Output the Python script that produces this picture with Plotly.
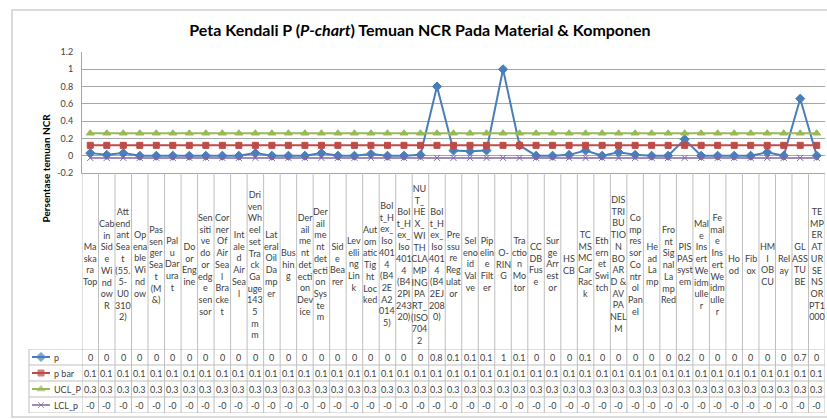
import plotly.graph_objects as go

# --- data ---
categories = [
    "Maskara Top", "Cabin Side Window R", "Attendant Seat (55.5-U003102)", "Openable Window",
    "Passenger Seat (M&)", "Palu Darurat", "Door Engine", "Sensitive door edge sensor",
    "Corner Of Air Seal Bracket", "Intaled Air Seal", "Driven Wheel set Track Gauge 1435 mm",
    "Lateral Oil Damper", "Bushing", "Derailment detection Device", "Derailment detection System",
    "Side Bearer", "Levelling Link", "Automatic Tight Locked", "Bolt_Hex_Iso 4014 (B42EA20145)",
    "Bolt_Hex_Iso 4014 (B42PI24320)", "NUT_HEX_WITH CLAMPING PART_(ISO 7042",
    "Bolt_Hex_Iso 4014 (B42EJ2080)", "Pressure Regulator", "Selenoid Valve", "Pipeline Filter",
    "O-RING", "Traction Motor", "CCDB Fuse", "Surge Arrestor", "HSCB", "TCMS MC Car Rack",
    "Ethernet Switch", "DISTRIBUTION BOARD & AV PANEL M", "Compressor Control Panel", "Head Lamp",
    "Front Signal Lamp Red", "PIS PAS system", "Male Insert Weidmuller", "Female Insert Weidmuller",
    "Hood", "Fibox", "HMI OBCU", "Relay", "GLASS TUBE", "TEMPERATURE SENSOR PT1000",
]

# category labels as wrapped in the narrow table columns
labels = [
    "Ma/ska/ra/Top", "Cab/in/Sid/e/Wi/nd/ow/R", "Att/end/ant/Sea/t/(55./5-/U0/310/2)",
    "Op/ena/ble/Wi/nd/ow", "Pas/sen/ger/Sea/t/(M/&)", "Pal/u/Dar/ura/t", "Do/or/Eng/ine",
    "Sen/siti/ve/do/or/edg/e/sen/sor", "Cor/ner/Of/Air/Sea/l/Bra/cke/t", "Int/ale/d/Air/Sea/l",
    "Dri/ven/Wh/eel/set/Tra/ck/Ga/uge/143/5/m/m", "Lat/eral/Oil/Da/mp/er", "Bus/hin/g",
    "Der/ail/me/nt/det/ecti/on/Dev/ice", "Der/ail/me/nt/det/ecti/on/Sys/te/m", "Sid/e/Bea/rer",
    "Lev/elli/ng/Lin/k", "Aut/om/atic/Tig/ht/Loc/ked", "Bol/t_H/ex_/Iso/401/4/(B4/2E/A2/014/5)",
    "Bol/t_H/ex_/Iso/401/4/(B4/2PI/243/20)", "NU/T_/HE/X_/WI/TH/CLA/MP/ING/PA/RT_/(ISO/704/2",
    "Bol/t_H/ex_/Iso/401/4/(B4/2EJ/208/0)", "Pre/ssu/re/Reg/ulat/or", "Sel/eno/id/Val/ve",
    "Pip/elin/e/Filt/er", "O-/RIN/G", "Tra/ctio/n/Mo/tor", "CC/DB/Fus/e", "Sur/ge/Arr/est/or",
    "HS/CB", "TC/MS/MC/Car/Rac/k", "Eth/ern/et/Swi/tch", "DIS/TRI/BU/TIO/N/BO/AR/D &/AV/PA/NEL/M",
    "Co/mp/res/sor/Co/ntr/ol/Pan/el", "He/ad/La/mp", "Fro/nt/Sig/nal/La/mp/Red", "PIS/PAS/syst/em",
    "Mal/e/Ins/ert/We/idm/ulle/r", "Fe/mal/e/Ins/ert/We/idm/ulle/r", "Ho/od", "Fib/ox",
    "HM/I/OB/CU", "Rel/ay", "GL/ASS/TU/BE", "TE/MP/ER/AT/UR/SE/NS/OR/PT1/000",
]

p = [0.03, 0.01, 0.03, 0, 0, 0, 0, 0, 0, 0,
     0.03, 0, 0, 0, 0.03, 0, 0, 0.02, 0, 0,
     0.01, 0.8, 0.06, 0.052, 0.06, 1.0, 0.12, 0, 0, 0.01,
     0.06, 0, 0.04, 0.01, 0, 0, 0.19, 0, 0, 0,
     0, 0.04, 0, 0.66, 0]
p_bar = [0.12, 0.12, 0.12, 0.12, 0.12, 0.12, 0.12, 0.12, 0.12, 0.12,
         0.12, 0.12, 0.12, 0.12, 0.12, 0.12, 0.12, 0.12, 0.12, 0.12,
         0.12, 0.12, 0.12, 0.12, 0.12, 0.12, 0.12, 0.12, 0.12, 0.12,
         0.12, 0.12, 0.12, 0.12, 0.12, 0.12, 0.12, 0.12, 0.12, 0.12,
         0.12, 0.12, 0.12, 0.12, 0.12]
ucl_p = [0.26, 0.26, 0.26, 0.26, 0.26, 0.26, 0.26, 0.26, 0.26, 0.26,
         0.26, 0.26, 0.26, 0.26, 0.26, 0.26, 0.26, 0.26, 0.26, 0.26,
         0.26, 0.26, 0.26, 0.26, 0.26, 0.26, 0.26, 0.26, 0.26, 0.26,
         0.26, 0.26, 0.26, 0.26, 0.26, 0.26, 0.26, 0.26, 0.26, 0.26,
         0.26, 0.26, 0.26, 0.26, 0.26]
lcl_p = [-0.025, -0.025, -0.025, -0.025, -0.025, -0.025, -0.025, -0.025, -0.025, -0.025,
         -0.025, -0.025, -0.025, -0.025, -0.025, -0.025, -0.025, -0.025, -0.025, -0.025,
         -0.025, -0.025, -0.025, -0.025, -0.025, -0.025, -0.025, -0.025, -0.025, -0.025,
         -0.025, -0.025, -0.025, -0.025, -0.025, -0.025, -0.025, -0.025, -0.025, -0.025,
         -0.025, -0.025, -0.025, -0.025, -0.025]

y_ticks = [-0.2, 0, 0.2, 0.4, 0.6, 0.8, 1, 1.2]
series_names = ["p", "p bar", "UCL_P", "LCL_p"]


def fmt(v):
    s = f"{v:.1f}"
    if s.endswith(".0"):
        s = s[:-2]
    return s


series = [
    ("p", p, "#4a7ebb", "diamond", 7, 2),
    ("p bar", p_bar, "#be4b48", "square", 6, 2),
    ("UCL_P", ucl_p, "#98b954", "triangle-up", 7, 2),
    ("LCL_p", lcl_p, "#8064a2", "x-thin-open", 6, 1.5),
]

FONT = "Lato, 'Open Sans', sans-serif"
TXT = "#404040"
GRID = "#bfbfbf"

fig = go.Figure()
for name, vals, col, sym, ms, lw in series:
    fig.add_trace(go.Scatter(
        x=categories, y=vals, name=name, mode="lines+markers",
        line=dict(color=col, width=lw),
        marker=dict(symbol=sym, size=ms, color=col, line=dict(color=col, width=1)),
        showlegend=False,
    ))
    # legend key inside the data table
    fig.add_trace(go.Scatter(
        x=[3, 12, 21], y=[name] * 3, mode="lines+markers",
        line=dict(color=col, width=lw),
        marker=dict(symbol=sym, size=[0, ms, 0], color=col, line=dict(color=col, width=1)),
        xaxis="x2", yaxis="y2", showlegend=False, hoverinfo="skip",
    ))

# plot area: x 82..825 px, y 52..173 px; table rows 349..413 px
dom_lo = (413 - 173) / 361
tab_hi = (413 - 349) / 361
row_order = series_names[::-1]

ann = []
for i, lab in enumerate(labels):
    ann.append(dict(x=i, y=(413 - 264) / 361, xref="x", yref="paper",
                    text=lab.replace("/", "<br>"), showarrow=False,
                    font=dict(size=9, color=TXT, family=FONT), yanchor="middle"))
for name, vals, *_ in series:
    r = row_order.index(name)
    for i, v in enumerate(vals):
        ann.append(dict(x=i, y=r, xref="x", yref="y2", text=fmt(v), showarrow=False,
                        font=dict(size=9, color=TXT, family=FONT)))
    ann.append(dict(x=23, y=r, xref="x2", yref="y2", text=name, showarrow=False,
                    xanchor="left", font=dict(size=9, color=TXT, family=FONT)))
ann.append(dict(x=(37 - 12) / 813, y=(413 - 112) / 361, xref="paper", yref="paper",
                text="<b>Persentase temuan NCR</b>", textangle=-90, showarrow=False,
                font=dict(size=10, color="#000000", family=FONT)))

shapes = []
for i in range(len(categories) + 1):
    shapes.append(dict(type="line", xref="x", yref="paper", x0=i - 0.5, x1=i - 0.5,
                       y0=0, y1=dom_lo, line=dict(color=GRID, width=1)))
for r in range(len(series_names) + 1):
    shapes.append(dict(type="line", xref="paper", yref="y2", x0=(29 - 12) / 813, x1=1,
                       y0=r - 0.5, y1=r - 0.5, line=dict(color=GRID, width=1)))
shapes.append(dict(type="line", xref="paper", yref="paper", x0=(29 - 12) / 813,
                   x1=(29 - 12) / 813, y0=0, y1=tab_hi, line=dict(color=GRID, width=1)))
# outer chart border
shapes.append(dict(type="rect", xref="paper", yref="paper", x0=0, x1=1.03,
                   y0=(413 - 417) / 361, y1=(413 - 10) / 361,
                   line=dict(color="#d0d0d0", width=1.5)))

fig.update_layout(
    width=827, height=419,
    margin=dict(l=12, r=2, t=52, b=6),
    paper_bgcolor="white", plot_bgcolor="white",
    title=dict(text="Peta Kendali P (<i>P-chart</i>) Temuan NCR Pada Material & Komponen",
               x=420 / 827, xanchor="center", y=1 - 30 / 419, yanchor="middle",
               font=dict(size=16, color="#000000", family=FONT, weight="bold")),
    xaxis=dict(domain=[70 / 813, 1], range=[-0.5, len(categories) - 0.5],
               showticklabels=False, showgrid=False, showline=True,
               linecolor="#a6a6a6", anchor="y"),
    yaxis=dict(domain=[dom_lo, 1], range=[-0.2, 1.2], tickvals=y_ticks,
               ticktext=[fmt(v) for v in y_ticks], gridcolor="#a6a6a6",
               showline=True, linecolor="#a6a6a6", zeroline=False, ticks="",
               ticklabelstandoff=6, tickfont=dict(size=9, color=TXT, family=FONT)),
    xaxis2=dict(domain=[(29 - 12) / 813, 70 / 813], range=[0, 53], visible=False,
                anchor="y2"),
    yaxis2=dict(domain=[0, tab_hi], type="category", categoryorder="array",
                categoryarray=row_order, range=[-0.5, 3.5], visible=False, anchor="x2"),
    annotations=ann,
    shapes=shapes,
)

fig.write_html("out.html", config={"displayModeBar": False},
               post_script="document.body.style.margin='0';")
